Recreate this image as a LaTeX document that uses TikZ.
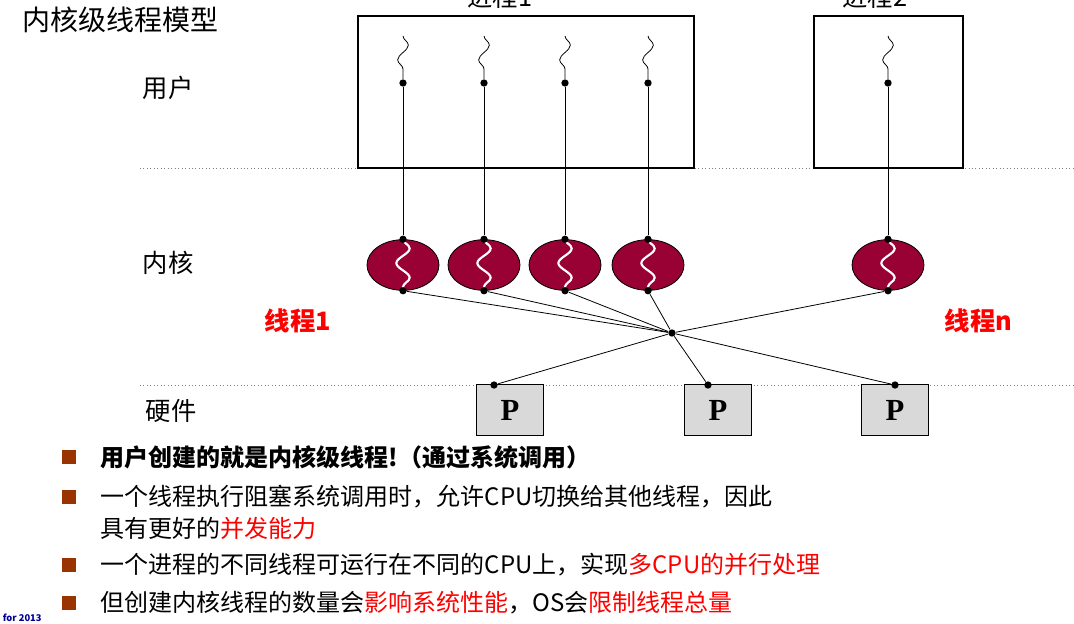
\documentclass[tikz,border=0pt]{standalone}
\usepackage{fontspec}
\setmainfont{Liberation Serif}
\newfontfamily\cjk{Noto Sans CJK SC}
\usetikzlibrary{decorations.pathmorphing, shapes.geometric}
\definecolor{ktred}{RGB}{153,0,51}
\definecolor{hwgray}{RGB}{217,217,217}
\definecolor{bulletred}{RGB}{153,51,0}
\tikzset{
	procbox/.style={draw, thick, line width=0.9pt},
	kthread/.style={ellipse, draw, fill=ktred, minimum width=54pt, minimum height=38pt, inner sep=0},
	cpubox/.style={draw, fill=hwgray, minimum width=50pt, minimum height=38pt, font=\bfseries\fontsize{23}{23}\selectfont},
	dot/.style={circle, fill=black, inner sep=0, minimum size=5.5pt},
	squig/.style={decorate, decoration={snake, segment length=22pt, amplitude=4pt}},
	lbl/.style={font=\cjk\fontsize{19}{19}\selectfont, anchor=west},
	red/.style={text=red}
}
\begin{document}
\begin{tikzpicture}[x=0.75pt, y=-0.75pt, line width=0.6pt]
	\useasboundingbox (0,0) rectangle (1074,624);
	% titel en lagen
	\node[lbl, font=\cjk\fontsize{21}{21}\selectfont] (title) at (18,20) {内核级线程模型};
	\node[lbl] (user) at (138,88) {用户};
	\node[lbl] (kern) at (138,263) {内核};
	\node[lbl] (hw) at (141,411) {硬件};
	\draw[dotted, gray] (140,168) -- (1074,168);
	\draw[dotted, gray] (140,385) -- (1074,385);
	% processen
	\draw[procbox] (358,16) rectangle (694,168);
	\draw[procbox] (814,16) rectangle (963,168);
	\node[font=\cjk\fontsize{19}{19}\selectfont] (p1) at (500,-3) {进程1};
	\node[font=\cjk\fontsize{19}{19}\selectfont] (p2) at (875,-3) {进程2};
	% threads
	\foreach \n/\x in {a/403, b/484, c/565, d/648, e/888} {
		\node[kthread] (k\n) at (\x,265) {};
		\node[dot] (u\n) at (\x,83) {};
		\coordinate (s\n) at (\x,36);
		\draw[squig] (s\n) -- (u\n);
		\draw[squig, white, line width=1.6pt, decoration={amplitude=5pt}] (k\n.north) -- (k\n.south);
		\node[dot] (kt\n) at (k\n.north) {};
		\node[dot] (kb\n) at (k\n.south) {};
		\draw (u\n) -- (kt\n);
	}
	% processors
	\node[cpubox] (cpu1) at (510,410) {P};
	\node[cpubox] (cpu2) at (718,410) {P};
	\node[cpubox] (cpu3) at (895,410) {P};
	\node[dot] (c1) at (494,385) {};
	\node[dot] (c2) at (708,385) {};
	\node[dot] (c3) at (895,385) {};
	\node[dot] (hub) at (672,333) {};
	\foreach \n in {a,b,c,d,e} \draw (kb\n) -- (hub);
	\foreach \n in {1,2,3} \draw (hub) -- (c\n);
	\node[lbl, red, font=\cjk\bfseries\fontsize{19}{19}\selectfont] (t1) at (260,321) {线程1};
	\node[lbl, red, font=\cjk\bfseries\fontsize{19}{19}\selectfont] (tn) at (940,321) {线程n};
	% opsomming
	\foreach \y in {457,497,565,603} \fill[bulletred] (62,\y-7) rectangle (76,\y+7);
	\node[lbl, font=\cjk\bfseries\fontsize{18}{18}\selectfont] (b1) at (96,457) {用户创建的就是内核级线程!（通过系统调用）};
	\node[lbl, align=left, font=\cjk\fontsize{18}{24}\selectfont] (b2) at (96,512) {一个线程执行阻塞系统调用时，允许CPU切换给其他线程，因此\\具有更好的\textcolor{red}{并发能力}};
	\node[lbl, font=\cjk\fontsize{18}{18}\selectfont] (b3) at (96,565) {一个进程的不同线程可运行在不同的CPU上，实现\textcolor{red}{多CPU的并行处理}};
	\node[lbl, font=\cjk\fontsize{18}{18}\selectfont] (b4) at (96,603) {但创建内核线程的数量会\textcolor{red}{影响系统性能}，OS会\textcolor{red}{限制线程总量}};
	\node[anchor=west, text=blue!60!black, font=\cjk\bfseries\fontsize{7}{7}\selectfont] (foot) at (-2,618) {for 2013};
\end{tikzpicture}
\end{document}
